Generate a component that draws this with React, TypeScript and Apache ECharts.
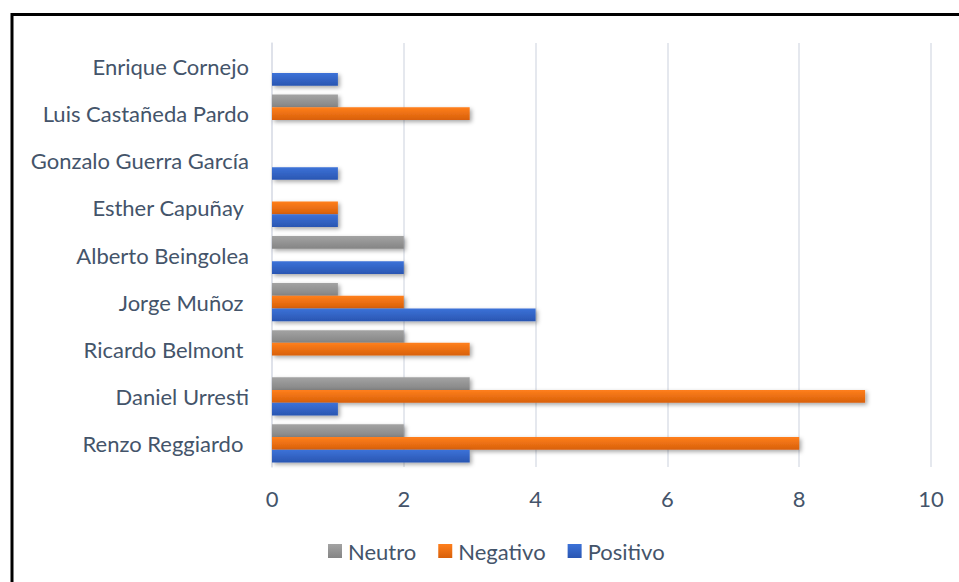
import React, { useEffect, useRef } from "react";
import * as echarts from "echarts";

const categories = [
  "Renzo Reggiardo ",
  "Daniel Urresti",
  "Ricardo Belmont ",
  "Jorge Muñoz ",
  "Alberto Beingolea",
  "Esther Capuñay ",
  "Gonzalo Guerra García",
  "Luis Castañeda Pardo",
  "Enrique Cornejo",
];
const neutro = [2, 3, 2, 1, 2, 0, 0, 1, 0];
const negativo = [8, 9, 3, 2, 0, 1, 0, 3, 0];
const positivo = [3, 1, 0, 4, 2, 1, 1, 0, 1];
const seriesNames = ["Neutro", "Negativo", "Positivo"];

const FONT = "Lato";
const TEXT = "#44546A";
const FS = 22;

function grad(top: string, bottom: string) {
  return new echarts.graphic.LinearGradient(0, 0, 0, 1, [
    { offset: 0, color: top },
    { offset: 1, color: bottom },
  ]);
}

export default function App() {
  const ref = useRef<HTMLDivElement>(null);
  useEffect(() => {
    if (!ref.current) return;
    const chart = echarts.init(ref.current, null, { renderer: "svg" });
    const mk = (name: string, data: number[], top: string, bottom: string) => ({
      name,
      type: "bar",
      data,
      barGap: "0%",
      barCategoryGap: "19%",
      itemStyle: {
        color: grad(top, bottom),
        shadowColor: "rgba(0,0,0,0.35)",
        shadowBlur: 4,
        shadowOffsetX: 2,
        shadowOffsetY: 2,
      },
    });
    const s = [
      mk(seriesNames[0], neutro, "#A3A3A3", "#858585"),
      mk(seriesNames[1], negativo, "#FF7F1C", "#D8600A"),
      mk(seriesNames[2], positivo, "#3C72D8", "#2A56B2"),
    ];
    chart.setOption({
      animation: false,
      backgroundColor: "#ffffff",
      grid: { left: 272, right: 28, top: 43, bottom: 115, containLabel: false },
      legend: {
        left: 323,
        top: 535,
        itemWidth: 14,
        itemHeight: 14,
        itemGap: 22,
        icon: "rect",
        textStyle: { color: TEXT, fontFamily: FONT, fontSize: FS, padding: [0, 0, 0, 1] },
        data: seriesNames.map((n, i) => ({
          name: n,
          itemStyle: { color: s[i].itemStyle.color, shadowBlur: 0, shadowOffsetX: 0, shadowOffsetY: 0 },
        })),
      },
      xAxis: {
        type: "value",
        min: 0,
        max: 10,
        interval: 2,
        axisLine: { show: false },
        axisTick: { show: false },
        splitLine: { lineStyle: { color: "#DCE1E8", width: 1.5 } },
        axisLabel: { color: TEXT, fontFamily: FONT, fontSize: FS, margin: 20 },
      },
      yAxis: {
        type: "category",
        data: categories,
        axisLine: { show: true, lineStyle: { color: "#DCE1E8", width: 1.5 } },
        axisTick: { show: false },
        axisLabel: { color: TEXT, fontFamily: FONT, fontSize: FS, margin: 23 },
      },
      series: s,
      graphic: [
        {
          type: "rect",
          shape: { x: 12, y: 14.5, width: 1200, height: 1200 },
          style: { fill: "none", stroke: "#000000", lineWidth: 3 },
          silent: true,
          z: 100,
        },
      ],
    });
    return () => chart.dispose();
  }, []);
  return (
    <div
      ref={ref}
      style={{ position: "fixed", left: 0, top: 0, width: 959, height: 582, background: "#fff" }}
    />
  );
}
